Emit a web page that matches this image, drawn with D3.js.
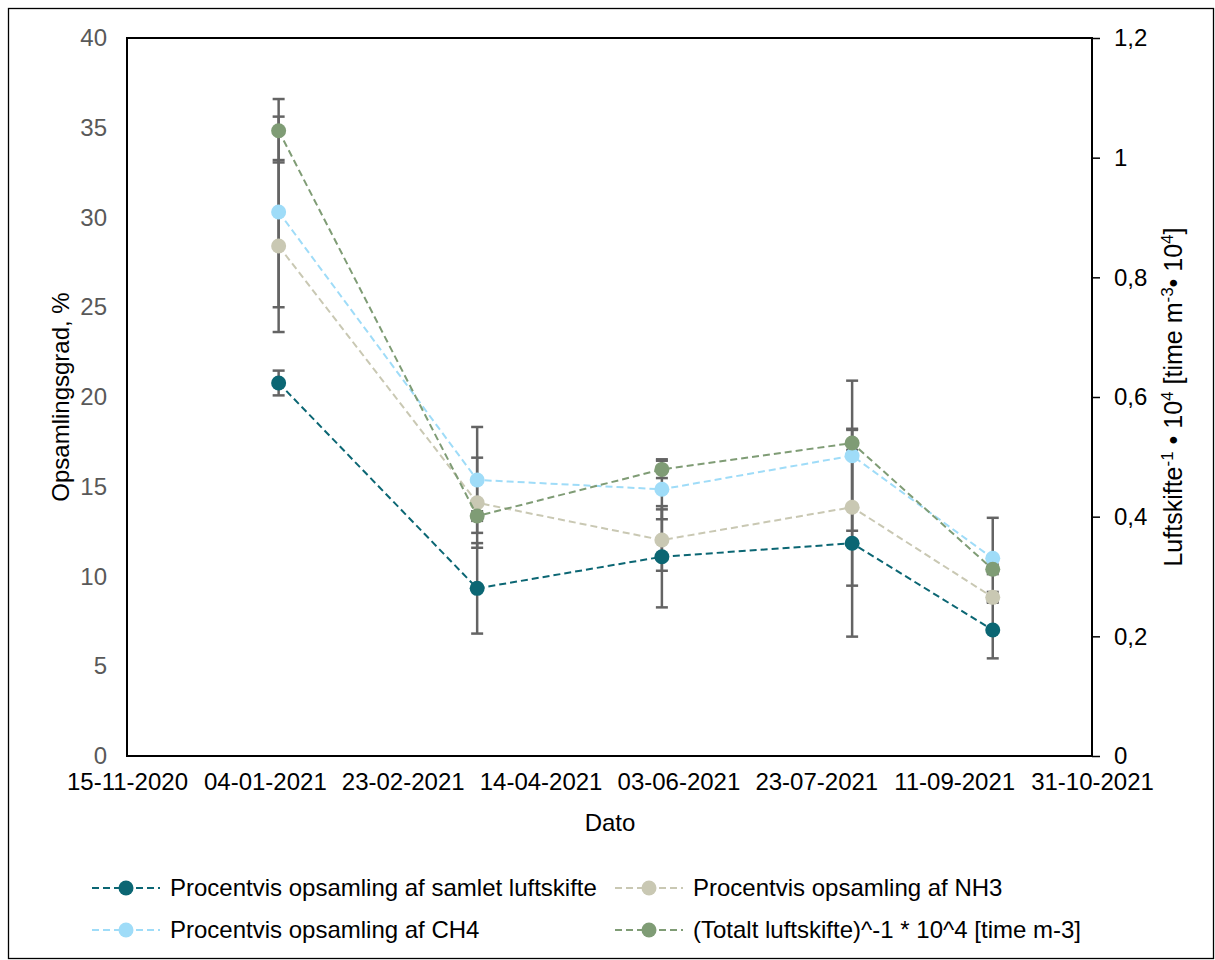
<!DOCTYPE html>
<html>
<head>
<meta charset="utf-8">
<script src="https://cdn.jsdelivr.net/npm/d3@7"></script>
<style>
  body { margin: 0; background: #fff; }
  svg text { font-family: "Liberation Sans", Arial, sans-serif; }
</style>
</head>
<body>
<div id="chart"></div>
<script>

const sampleDates = ['09-01-2021', '22-03-2021', '28-05-2021', '05-08-2021', '25-09-2021'];
const tickDates   = ['15-11-2020', '04-01-2021', '23-02-2021', '14-04-2021', '03-06-2021', '23-07-2021', '11-09-2021', '31-10-2021'];

const leftTicks  = [0, 5, 10, 15, 20, 25, 30, 35, 40];
const rightTicks = [0, 0.2, 0.4, 0.6, 0.8, 1, 1.2];

// percent, left axis
const samlet    = [20.78, 9.34, 11.10, 11.85, 7.02];
const samletErr = [0.69, 2.52, 2.82, 5.20, 1.58];
const nh3       = [28.41, 14.11, 12.03, 13.86, 8.84];
const nh3Err    = [4.79, 2.51, 1.71, 4.37, 0.30];
const ch4       = [30.31, 15.38, 14.86, 16.73, 11.01];
const ch4Err    = [5.31, 2.95, 1.67, 4.18, 2.26];

// right axis
const totalt    = [1.045, 0.401, 0.479, 0.523, 0.312];
const totaltErr = [0.053, 0.008, 0.0145, 0.022, 0.008];

const parse = d3.utcParse('%d-%m-%Y');

const series = [
  { name: 'Procentvis opsamling af samlet luftskifte', values: samlet, err: samletErr, color: '#0b6673', axis: 'left' },
  { name: 'Procentvis opsamling af NH3', values: nh3, err: nh3Err, color: '#c9c8b3', axis: 'left' },
  { name: 'Procentvis opsamling af CH4', values: ch4, err: ch4Err, color: '#9fdcf8', axis: 'left' },
  { name: '(Totalt luftskifte)^-1 * 10^4 [time m-3]', values: totalt, err: totaltErr, color: '#7f9c75', axis: 'right' }
];

const W = 1215, H = 960;
const plot = { left: 127, right: 1092, top: 38, bottom: 756 };
const FS = 24;

const svg = d3.select('#chart').append('svg')
  .attr('width', W)
  .attr('height', H);

// outer frame
svg.append('rect')
  .attr('x', 8.5).attr('y', 8.5)
  .attr('width', W - 10).attr('height', H - 10)
  .attr('fill', 'none')
  .attr('stroke', '#000')
  .attr('stroke-width', 1.3);

const x = d3.scaleUtc()
  .domain([parse(tickDates[0]), parse(tickDates[tickDates.length - 1])])
  .range([plot.left, plot.right]);

const yL = d3.scaleLinear().domain([0, 40]).range([plot.bottom, plot.top]);
const yR = d3.scaleLinear().domain([0, 1.2]).range([plot.bottom, plot.top]);

const fmtR = (d) => d3.format('~g')(d).replace('.', ',');

// left axis
const axisL = svg.append('g')
  .attr('transform', `translate(${plot.left},0)`)
  .call(d3.axisLeft(yL).tickValues(leftTicks).tickSize(0).tickPadding(20));
axisL.select('.domain').remove();
axisL.selectAll('text')
  .attr('fill', '#595959')
  .attr('font-size', FS);

// right axis
const axisR = svg.append('g')
  .attr('transform', `translate(${plot.right},0)`)
  .call(d3.axisRight(yR).tickValues(rightTicks).tickFormat(fmtR).tickSize(8).tickPadding(14));
axisR.select('.domain').remove();
axisR.selectAll('line').attr('stroke', '#000').attr('stroke-width', 1.5);
axisR.selectAll('text')
  .attr('fill', '#000')
  .attr('font-size', FS);

// x axis
const axisX = svg.append('g')
  .attr('transform', `translate(0,${plot.bottom})`)
  .call(d3.axisBottom(x)
    .tickValues(tickDates.map(parse))
    .tickFormat(d3.utcFormat('%d-%m-%Y'))
    .tickSize(0)
    .tickPadding(17));
axisX.select('.domain').remove();
axisX.selectAll('text')
  .attr('fill', '#000')
  .attr('font-size', FS);

// plot frame
svg.append('rect')
  .attr('x', plot.left).attr('y', plot.top)
  .attr('width', plot.right - plot.left)
  .attr('height', plot.bottom - plot.top)
  .attr('fill', 'none')
  .attr('stroke', '#000')
  .attr('stroke-width', 2);

// axis titles
svg.append('text')
  .attr('x', 610).attr('y', 831)
  .attr('text-anchor', 'middle')
  .attr('font-size', FS)
  .text('Dato');

svg.append('text')
  .attr('transform', `translate(69,${(plot.top + plot.bottom) / 2}) rotate(-90)`)
  .attr('text-anchor', 'middle')
  .attr('font-size', FS)
  .text('Opsamlingsgrad, %');

const rTitle = svg.append('text')
  .attr('transform', `translate(1182,${(plot.top + plot.bottom) / 2}) rotate(-90)`)
  .attr('text-anchor', 'middle')
  .attr('font-size', 25);

[['Luftskifte', false], ['-1', true], [' • 10', false], ['4', true], [' [time m', false],
 ['-3', true], ['• 10', false], ['4', true], [']', false]].forEach(([t, sup], i, arr) => {
  const prevSup = i > 0 && arr[i - 1][1];
  rTitle.append('tspan')
    .attr('font-size', sup ? 17 : 25)
    .attr('dy', sup ? -9 : (prevSup ? 9 : 0))
    .text(t);
});

// error bars
const errG = svg.append('g');

series.forEach((s) => {
  const y = s.axis === 'left' ? yL : yR;
  s.values.forEach((v, i) => {
    const cx = x(parse(sampleDates[i]));
    const top = y(v + s.err[i]), bot = y(v - s.err[i]);
    errG.append('line')
      .attr('x1', cx).attr('x2', cx)
      .attr('y1', top).attr('y2', bot)
      .attr('stroke', '#646464')
      .attr('stroke-width', 2.5);
    [top, bot].forEach((cy) => {
      errG.append('line')
        .attr('x1', cx - 6).attr('x2', cx + 6)
        .attr('y1', cy).attr('y2', cy)
        .attr('stroke', '#646464')
        .attr('stroke-width', 2.5);
    });
  });
});

// lines and markers
series.forEach((s) => {
  const y = s.axis === 'left' ? yL : yR;
  const pts = s.values.map((v, i) => [x(parse(sampleDates[i])), y(v)]);

  svg.append('path')
    .attr('d', d3.line()(pts))
    .attr('fill', 'none')
    .attr('stroke', s.color)
    .attr('stroke-width', 2)
    .attr('stroke-dasharray', '7,4');

  svg.append('g').selectAll('circle')
    .data(pts)
    .join('circle')
    .attr('cx', (d) => d[0])
    .attr('cy', (d) => d[1])
    .attr('r', 7.5)
    .attr('fill', s.color);
});

// legend
const legendPos = [[92, 888], [615, 888], [92, 930], [615, 930]];

series.forEach((s, i) => {
  const [lx, ly] = legendPos[i];
  const g = svg.append('g').attr('transform', `translate(${lx},${ly})`);

  g.append('line')
    .attr('x1', 0).attr('x2', 68)
    .attr('y1', 0).attr('y2', 0)
    .attr('stroke', s.color)
    .attr('stroke-width', 2)
    .attr('stroke-dasharray', '7,4');

  g.append('circle')
    .attr('cx', 34).attr('cy', 0)
    .attr('r', 7.5)
    .attr('fill', s.color);

  g.append('text')
    .attr('x', 78).attr('y', 8)
    .attr('font-size', FS)
    .text(s.name);
});

</script>
</body>
</html>
